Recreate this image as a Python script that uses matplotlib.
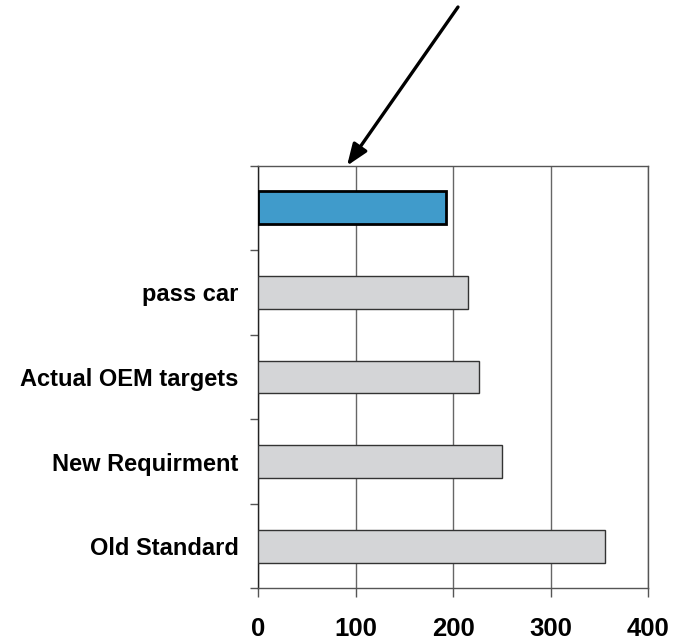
import matplotlib
matplotlib.use("Agg")
import matplotlib.pyplot as plt
import numpy as np

# Categories listed top to bottom
categories = ["", "pass car", "Actual OEM targets", "New Requirment", "Old Standard"]
values = [193, 215, 226, 250, 356]
bar_colors = ["#409BCB", "#D4D5D7", "#D4D5D7", "#D4D5D7", "#D4D5D7"]
edge_colors = ["#000000", "#333333", "#333333", "#333333", "#333333"]
edge_widths = [2.0, 1.0, 1.0, 1.0, 1.0]
x_ticks = [0, 100, 200, 300, 400]
arrow_target = 91

plt.rcParams["font.family"] = ["Liberation Sans", "DejaVu Sans"]
plt.rcParams["font.weight"] = "bold"

fig = plt.figure(figsize=(6.79, 6.44), dpi=100)
ax = fig.add_axes([0.3804, 0.0865, 0.5744, 0.6562])

n = len(categories)
ypos = np.arange(n)[::-1]
ax.barh(ypos, values, height=0.39, color=bar_colors,
        edgecolor=edge_colors, linewidth=edge_widths, zorder=3)

ax.set_xlim(0, 400)
ax.set_ylim(-0.5, n - 0.5)

ax.set_xticks(x_ticks)
ax.set_xticklabels([str(t) for t in x_ticks], fontsize=18.5, fontweight="bold")
ax.tick_params(axis="x", direction="out", length=6.5, width=1, color="#555555", pad=14)

ax.set_yticks(ypos)
ax.set_yticklabels(categories, fontsize=17, fontweight="bold")
ax.tick_params(axis="y", which="major", length=0, pad=14)
ax.set_yticks(np.arange(-0.5, n, 1.0), minor=True)
ax.tick_params(axis="y", which="minor", direction="out", length=5.8, width=1, color="#555555")

ax.xaxis.grid(True, color="#666666", linewidth=1.0, zorder=0)
ax.yaxis.grid(False)

for side in ["top", "right", "bottom"]:
    ax.spines[side].set_color("#555555")
    ax.spines[side].set_linewidth(1.0)
ax.spines["left"].set_color("#222222")
ax.spines["left"].set_linewidth(1.0)

ax.annotate("", xy=(arrow_target, 1.0), xycoords=("data", "axes fraction"),
            xytext=(0.6745, 0.9891), textcoords="figure fraction",
            arrowprops=dict(arrowstyle="-|>,head_length=1.3,head_width=0.5",
                            color="black", lw=2.4, shrinkA=0, shrinkB=0),
            annotation_clip=False)

fig.savefig("out.png", dpi=100)
